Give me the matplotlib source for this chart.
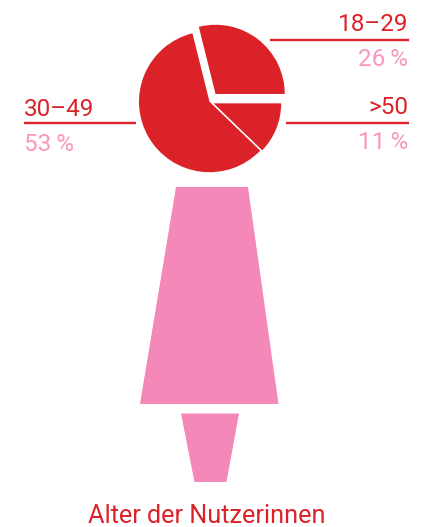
import matplotlib
matplotlib.use('Agg')
import matplotlib.pyplot as plt
from matplotlib.patches import Polygon

plt.rcParams['font.family'] = ['Roboto', 'DejaVu Sans']

# Age groups and their shares, counter clockwise from 3 o'clock
groups = ['18–29', '30–49', '>50']
shares = [26, 53, 11]
share_labels = ['26\u2009%', '53\u2009%', '11\u2009%']
title = 'Alter der Nutzerinnen'

red = '#DC2229'
pink = '#F388B9'
light_pink = '#F898C0'

fig = plt.figure(figsize=(4.31, 5.27), dpi=100)
ax = fig.add_axes([0, 0, 1, 1])

H = 527

# pie, pulled apart a bit (explode is in data units here)
wedges, _ = ax.pie(shares, startangle=0, radius=70.5, center=(209.5, H - 101.7),
                   explode=[9.8, 0, 4.4], colors=[red, red, red])
wedges[0].set_radius(69.2)
wedges[2].set_radius(67.6)

ax.set_xlim(0, 431)
ax.set_ylim(0, H)
ax.set_aspect('equal')
ax.axis('off')

# figure shape under the pie
ax.add_patch(Polygon([(176, H - 187), (248, H - 187), (278.5, H - 404), (140, H - 404)],
                     closed=True, fc=pink, ec='none'))
ax.add_patch(Polygon([(181, H - 413.5), (239, H - 413.5), (226.5, H - 482), (194.5, H - 482)],
                     closed=True, fc=pink, ec='none'))

# leader lines
ax.plot([270, 408.7], [H - 40, H - 40], color=red, lw=1.7, solid_capstyle='butt')
ax.plot([286.3, 408.7], [H - 123, H - 123], color=red, lw=1.7, solid_capstyle='butt')
ax.plot([24, 136], [H - 123.3, H - 123.3], color=red, lw=1.7, solid_capstyle='butt')

# labels
fs = 17.5
ax.text(408.5, H - 31, groups[0], color=red, fontsize=fs, ha='right', va='baseline')
ax.text(408.5, H - 66, share_labels[0], color=light_pink, fontsize=fs, ha='right', va='baseline')
ax.text(408.5, H - 114, groups[2], color=red, fontsize=fs, ha='right', va='baseline')
ax.text(408.5, H - 149, share_labels[2], color=light_pink, fontsize=fs, ha='right', va='baseline')
ax.text(24, H - 116, groups[1], color=red, fontsize=fs, ha='left', va='baseline')
ax.text(24, H - 150.5, share_labels[1], color=light_pink, fontsize=fs, ha='left', va='baseline')

ax.text(207, H - 523, title, color=red, fontsize=18.2, ha='center', va='baseline')

fig.savefig('out.png', dpi=100)
